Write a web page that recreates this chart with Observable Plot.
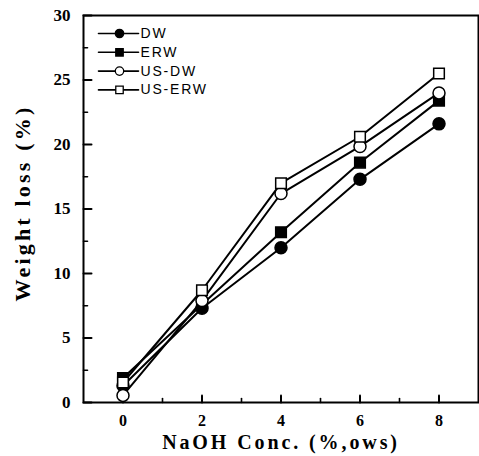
<!DOCTYPE html>
<html><head><meta charset="utf-8">
<script src="https://cdn.jsdelivr.net/npm/d3@7"></script>
<script src="https://cdn.jsdelivr.net/npm/@observablehq/plot@0.6"></script>
<style>
body{margin:0;background:#fff}
.xlab text{letter-spacing:2.9px}
.ylab text{letter-spacing:3.2px}
.leg text{letter-spacing:1.8px}
</style>
</head><body><div id="chart"></div>
<script>
const naoh = [0, 2, 4, 6, 8];
const seriesNames = ["DW", "ERW", "US-DW", "US-ERW"];
const dw = [1.3, 7.3, 12.0, 17.3, 21.6];
const erw = [1.9, 7.6, 13.2, 18.6, 23.4];
const usdw = [0.55, 7.9, 16.2, 19.85, 24.0];
const userw = [1.55, 8.7, 17.0, 20.6, 25.5];
const xMajor = [0, 2, 4, 6, 8];
const xMinor = [1, 3, 5, 7];
const yMajor = [0, 5, 10, 15, 20, 25, 30];
const yMinor = [2.5, 7.5, 12.5, 17.5, 22.5, 27.5];
const xLabel = "NaOH Conc. (%,ows)";
const yLabel = "Weight loss (%)";

const seriesValues = [dw, erw, usdw, userw];
const symbols = ["circle", "square", "circle", "square"];
const fills = ["black", "black", "white", "white"];

const rows = [];
seriesNames.forEach((name, s) => seriesValues[s].forEach((v, i) => rows.push({name, x: naoh[i], y: v})));

const hline = {draw(context, l) { context.moveTo(0, 0); context.lineTo(0, -l); }};

const marks = [
  // inward tick marks
  Plot.vector(xMajor, {x: d => d, frameAnchor: "bottom", length: 7, rotate: 0, anchor: "start", shape: hline, stroke: "black", strokeWidth: 2}),
  Plot.vector(xMinor, {x: d => d, frameAnchor: "bottom", length: 4, rotate: 0, anchor: "start", shape: hline, stroke: "black", strokeWidth: 1.6}),
  Plot.vector(yMajor, {y: d => d, frameAnchor: "left", length: 8, rotate: 90, anchor: "start", shape: hline, stroke: "black", strokeWidth: 2}),
  Plot.vector(yMinor, {y: d => d, frameAnchor: "left", length: 4, rotate: 90, anchor: "start", shape: hline, stroke: "black", strokeWidth: 1.6}),
  // tick labels
  Plot.axisX(xMajor, {tickSize: 0, tickPadding: 12.6, fontSize: 16, fontWeight: "bold", label: null, tickFormat: d => String(d)}),
  Plot.axisY(yMajor, {tickSize: 0, tickPadding: 13, fontSize: 17, fontWeight: "bold", label: null, tickFormat: d => String(d)}),
  Plot.frame({strokeWidth: 2}),
  Plot.text([xLabel], {frameAnchor: "bottom", dy: 32, textAnchor: "middle", lineAnchor: "top", text: d => d, fontSize: 20, fontWeight: "bold", fill: "black", className: "xlab"}),
  Plot.text([yLabel], {frameAnchor: "left", dx: -61, dy: -6, rotate: -90, textAnchor: "middle", lineAnchor: "middle", text: d => d, fontSize: 22, fontWeight: "bold", fill: "black", className: "ylab"})
];

seriesNames.forEach((name, s) => {
  marks.push(Plot.line(rows.filter(r => r.name === name), {x: "x", y: "y", stroke: "black", strokeWidth: 2}));
});
seriesNames.forEach((name, s) => {
  marks.push(Plot.dot(rows.filter(r => r.name === name), {x: "x", y: "y", symbol: symbols[s], r: 6, fill: fills[s], stroke: "black", strokeWidth: 1.5}));
});
// legend
seriesNames.forEach((name, s) => {
  const dy = 18 + s * 18.8;
  marks.push(Plot.vector([name], {frameAnchor: "top-left", dx: 35, dy, length: 40, rotate: 90, anchor: "middle", shape: hline, stroke: "black", strokeWidth: 1.6}));
  marks.push(Plot.dot([name], {frameAnchor: "top-left", dx: 36, dy, symbol: symbols[s], r: 4.2, fill: fills[s], stroke: "black", strokeWidth: 1.3}));
  marks.push(Plot.text([name], {frameAnchor: "top-left", dx: 57, dy, text: d => d, textAnchor: "start", lineAnchor: "middle", fontSize: 14, fontFamily: "Liberation Sans", fill: "black", className: "leg"}));
});

const chart = Plot.plot({
  width: 479, height: 456,
  marginLeft: 83, marginRight: 1, marginTop: 15, marginBottom: 54,
  x: {domain: [-1, 9]},
  y: {domain: [0, 30]},
  style: {fontFamily: "Liberation Serif", background: "white", color: "black"},
  marks
});
document.getElementById("chart").appendChild(chart);
</script>
</body></html>
